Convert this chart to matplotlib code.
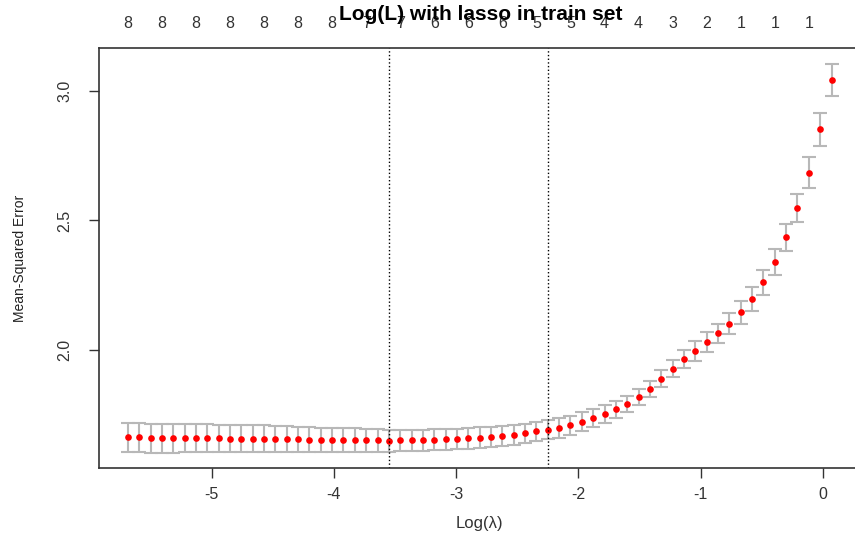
import numpy as np
import matplotlib
matplotlib.use('Agg')
from matplotlib import pyplot as plt

plt.rcParams['font.family'] = ['Liberation Sans', 'DejaVu Sans']

# log(lambda) path of the cv fit
log_lambda = [-5.684, -5.591, -5.498, -5.406, -5.313, -5.220, -5.127, -5.034, -4.942, -4.849,
              -4.756, -4.663, -4.570, -4.478, -4.385, -4.292, -4.199, -4.106, -4.014, -3.921,
              -3.828, -3.735, -3.642, -3.550, -3.457, -3.364, -3.271, -3.178, -3.086, -2.993,
              -2.900, -2.807, -2.714, -2.622, -2.529, -2.436, -2.343, -2.250, -2.158, -2.065,
              -1.972, -1.879, -1.786, -1.694, -1.601, -1.508, -1.415, -1.322, -1.230, -1.137,
              -1.044, -0.951, -0.858, -0.766, -0.673, -0.580, -0.487, -0.394, -0.302, -0.209,
              -0.116, -0.023, 0.070]

# mean cv error
cvm = [1.663, 1.664, 1.660, 1.659, 1.659, 1.659, 1.659, 1.659, 1.659, 1.658,
       1.658, 1.658, 1.658, 1.655, 1.655, 1.655, 1.654, 1.652, 1.652, 1.651,
       1.651, 1.651, 1.651, 1.650, 1.651, 1.651, 1.652, 1.653, 1.655, 1.656,
       1.659, 1.662, 1.665, 1.668, 1.672, 1.678, 1.686, 1.692, 1.699, 1.709,
       1.723, 1.736, 1.754, 1.771, 1.792, 1.817, 1.849, 1.889, 1.927, 1.964,
       1.996, 2.030, 2.064, 2.102, 2.146, 2.197, 2.261, 2.340, 2.435, 2.548,
       2.685, 2.852, 3.042]

# standard error of cv error
cvsd = [0.056, 0.056, 0.056, 0.055, 0.055, 0.054, 0.054, 0.054, 0.053, 0.053,
        0.053, 0.052, 0.051, 0.050, 0.050, 0.049, 0.048, 0.047, 0.047, 0.046,
        0.046, 0.045, 0.044, 0.043, 0.042, 0.042, 0.041, 0.041, 0.040, 0.040,
        0.040, 0.039, 0.039, 0.038, 0.038, 0.038, 0.037, 0.037, 0.037, 0.036,
        0.036, 0.035, 0.034, 0.033, 0.032, 0.031, 0.030, 0.032, 0.033, 0.035,
        0.038, 0.039, 0.038, 0.040, 0.044, 0.045, 0.047, 0.050, 0.051, 0.055,
        0.059, 0.063, 0.063]

# number of non-zero coefficients
nzero = [8]*21 + [7]*6 + [6]*9 + [5]*6 + [4]*6 + [3]*3 + [2]*3 + [1]*9

lambda_min = -3.550
lambda_1se = -2.250

fig = plt.figure(figsize=(8.55, 5.38), dpi=100)
ax = fig.add_axes([99/855, 70/538, 761/855, 420/538])

ax.errorbar(log_lambda, cvm, yerr=cvsd, fmt='none', ecolor='#b8b8b8',
            elinewidth=1.5, capsize=5, capthick=1.5, zorder=1)
ax.plot(log_lambda, cvm, 'o', color='red', markersize=4.8, markeredgewidth=0, zorder=2)
ax.axvline(lambda_min, color='black', linestyle=':', linewidth=1)
ax.axvline(lambda_1se, color='black', linestyle=':', linewidth=1)

ax.set_xlim(-5.920, 0.3025)
ax.set_ylim(1.5444, 3.166)
ax.set_xticks([-5, -4, -3, -2, -1, 0])
ax.set_xticklabels(['-5', '-4', '-3', '-2', '-1', '0'])
ax.set_yticks([2.0, 2.5, 3.0])
ax.set_yticklabels(['2.0', '2.5', '3.0'], rotation=90, va='center')
ax.tick_params(axis='both', length=7, width=1, color='#333333', labelsize=11.5, labelcolor='#333333')
ax.tick_params(axis='x', pad=7)
ax.tick_params(axis='y', pad=12)
for s in ax.spines.values():
    s.set_color('#333333')
    s.set_linewidth(1.2)

ax.set_xlabel('Log(\u03bb)', fontsize=12, color='#333333', labelpad=10)
ax.set_ylabel('Mean-Squared Error', fontsize=10, color='#222222', labelpad=22)

ax2 = ax.twiny()
ax2.set_xlim(ax.get_xlim())
ax2.set_xticks(log_lambda[::3])
ax2.set_xticklabels([str(n) for n in nzero[::3]])
ax2.tick_params(axis='x', length=0, pad=12, labelsize=11.5, labelcolor='#333333')
for s in ax2.spines.values():
    s.set_visible(False)

fig.text(481/855, 1 - 14/538, 'Log(L) with lasso in train set', ha='center', va='center',
         fontsize=15, fontweight='bold')

fig.savefig('out.png', dpi=100)
